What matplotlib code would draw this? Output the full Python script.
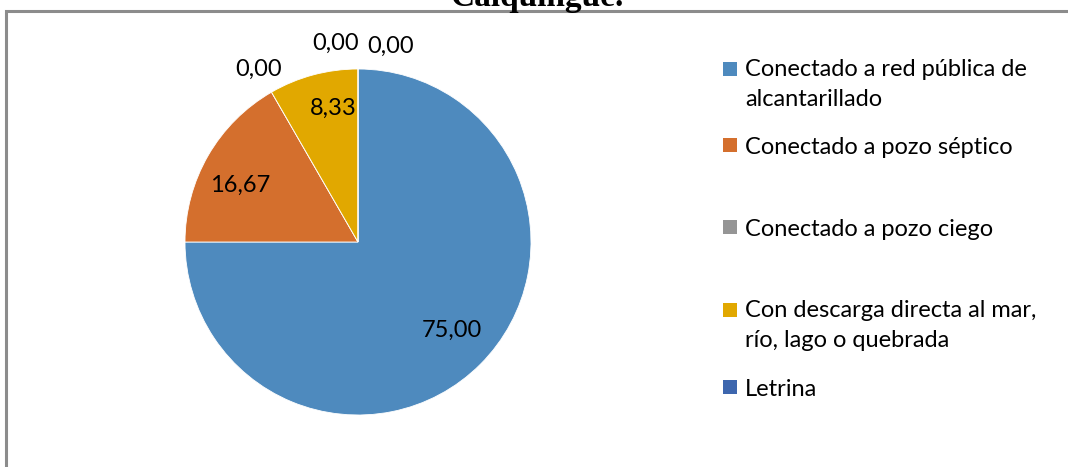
import matplotlib
matplotlib.use("Agg")
import matplotlib.pyplot as plt
from matplotlib.patches import Rectangle

# data
categories = ["Conectado a red pública de\nalcantarillado",
              "Conectado a pozo séptico",
              "Conectado a pozo ciego",
              "Con descarga directa al mar,\nrío, lago o quebrada",
              "Letrina",
              "Otra"]
values = [75.00, 16.67, 0.00, 8.33, 0.00, 0.00]
value_labels = ["75,00", "16,67", "0,00", "8,33", "0,00", "0,00"]
colors = ["#4E8ABE", "#D46F2D", "#959595", "#E1A800", "#3D66AE", "#7F7F7F"]
title = "Calquingue."

W, H = 1068, 467
fig = plt.figure(figsize=(W / 100, H / 100), dpi=100)
fig.patch.set_facecolor("white")

FONT = "Lato"
FS = 17

# chart frame (runs off the right and bottom of the picture)
fig.patches.append(Rectangle((6 / W, -0.1), 1.2, 1 - 11 / H + 0.1,
                             transform=fig.transFigure, fill=False,
                             edgecolor="#8C8C8C", linewidth=2.2))
# title sits above the frame and is cut off by the top edge
fig.text(537 / W, 1 - 6 / H, title, ha="center", va="baseline",
         fontsize=24, fontweight="bold", family="Liberation Serif")

# pie
cx, cy, r = 358, 242, 173
ax = fig.add_axes([(cx - r) / W, (H - cy - r) / H, 2 * r / W, 2 * r / H])
wedges, texts = ax.pie(values, colors=colors, startangle=90, counterclock=False,
                       labels=value_labels, labeldistance=0.77,
                       wedgeprops=dict(linewidth=0.6, edgecolor="white"),
                       textprops=dict(fontsize=FS, family=FONT, color="black"))
ax.set_xlim(-1, 1)
ax.set_ylim(-1, 1)
ax.set_aspect("auto")

# zero slices are labelled outside the pie, nudged apart as in the original
zero_shift = {2: (0.0, 0.0), 4: (-0.13, 0.0), 5: (0.19, -0.02)}
for i, t in enumerate(texts):
    if values[i] == 0:
        x, y = t.get_position()
        k = 1.15 / 0.77
        dx, dy = zero_shift.get(i, (0, 0))
        t.set_position((x * k + dx, y * k + dy))
for t in texts:
    t.set_ha("center")
    t.set_va("center")
texts[0].set_position((0.545, -0.51))
texts[1].set_position((-0.68, 0.33))
texts[3].set_position((-0.145, 0.775))

# legend, laid out like the original
legend_y = [69, 145, 227, 310, 387]
for i, y in enumerate(legend_y):
    fig.patches.append(Rectangle((723 / W, 1 - (y + 7) / H), 14 / W, 14 / H,
                                 transform=fig.transFigure,
                                 facecolor=colors[i], edgecolor="none"))
    t = fig.text(745 / W, 1 - y / H, categories[i], ha="left",
                 va="center_baseline", fontsize=FS, family=FONT,
                 linespacing=1.55)
    # two-line entries are anchored on their first line
    if "\n" in categories[i]:
        t.set_va("top")
        t.set_position((745 / W, 1 - (y - 10) / H))

fig.savefig("out.png", dpi=100)
